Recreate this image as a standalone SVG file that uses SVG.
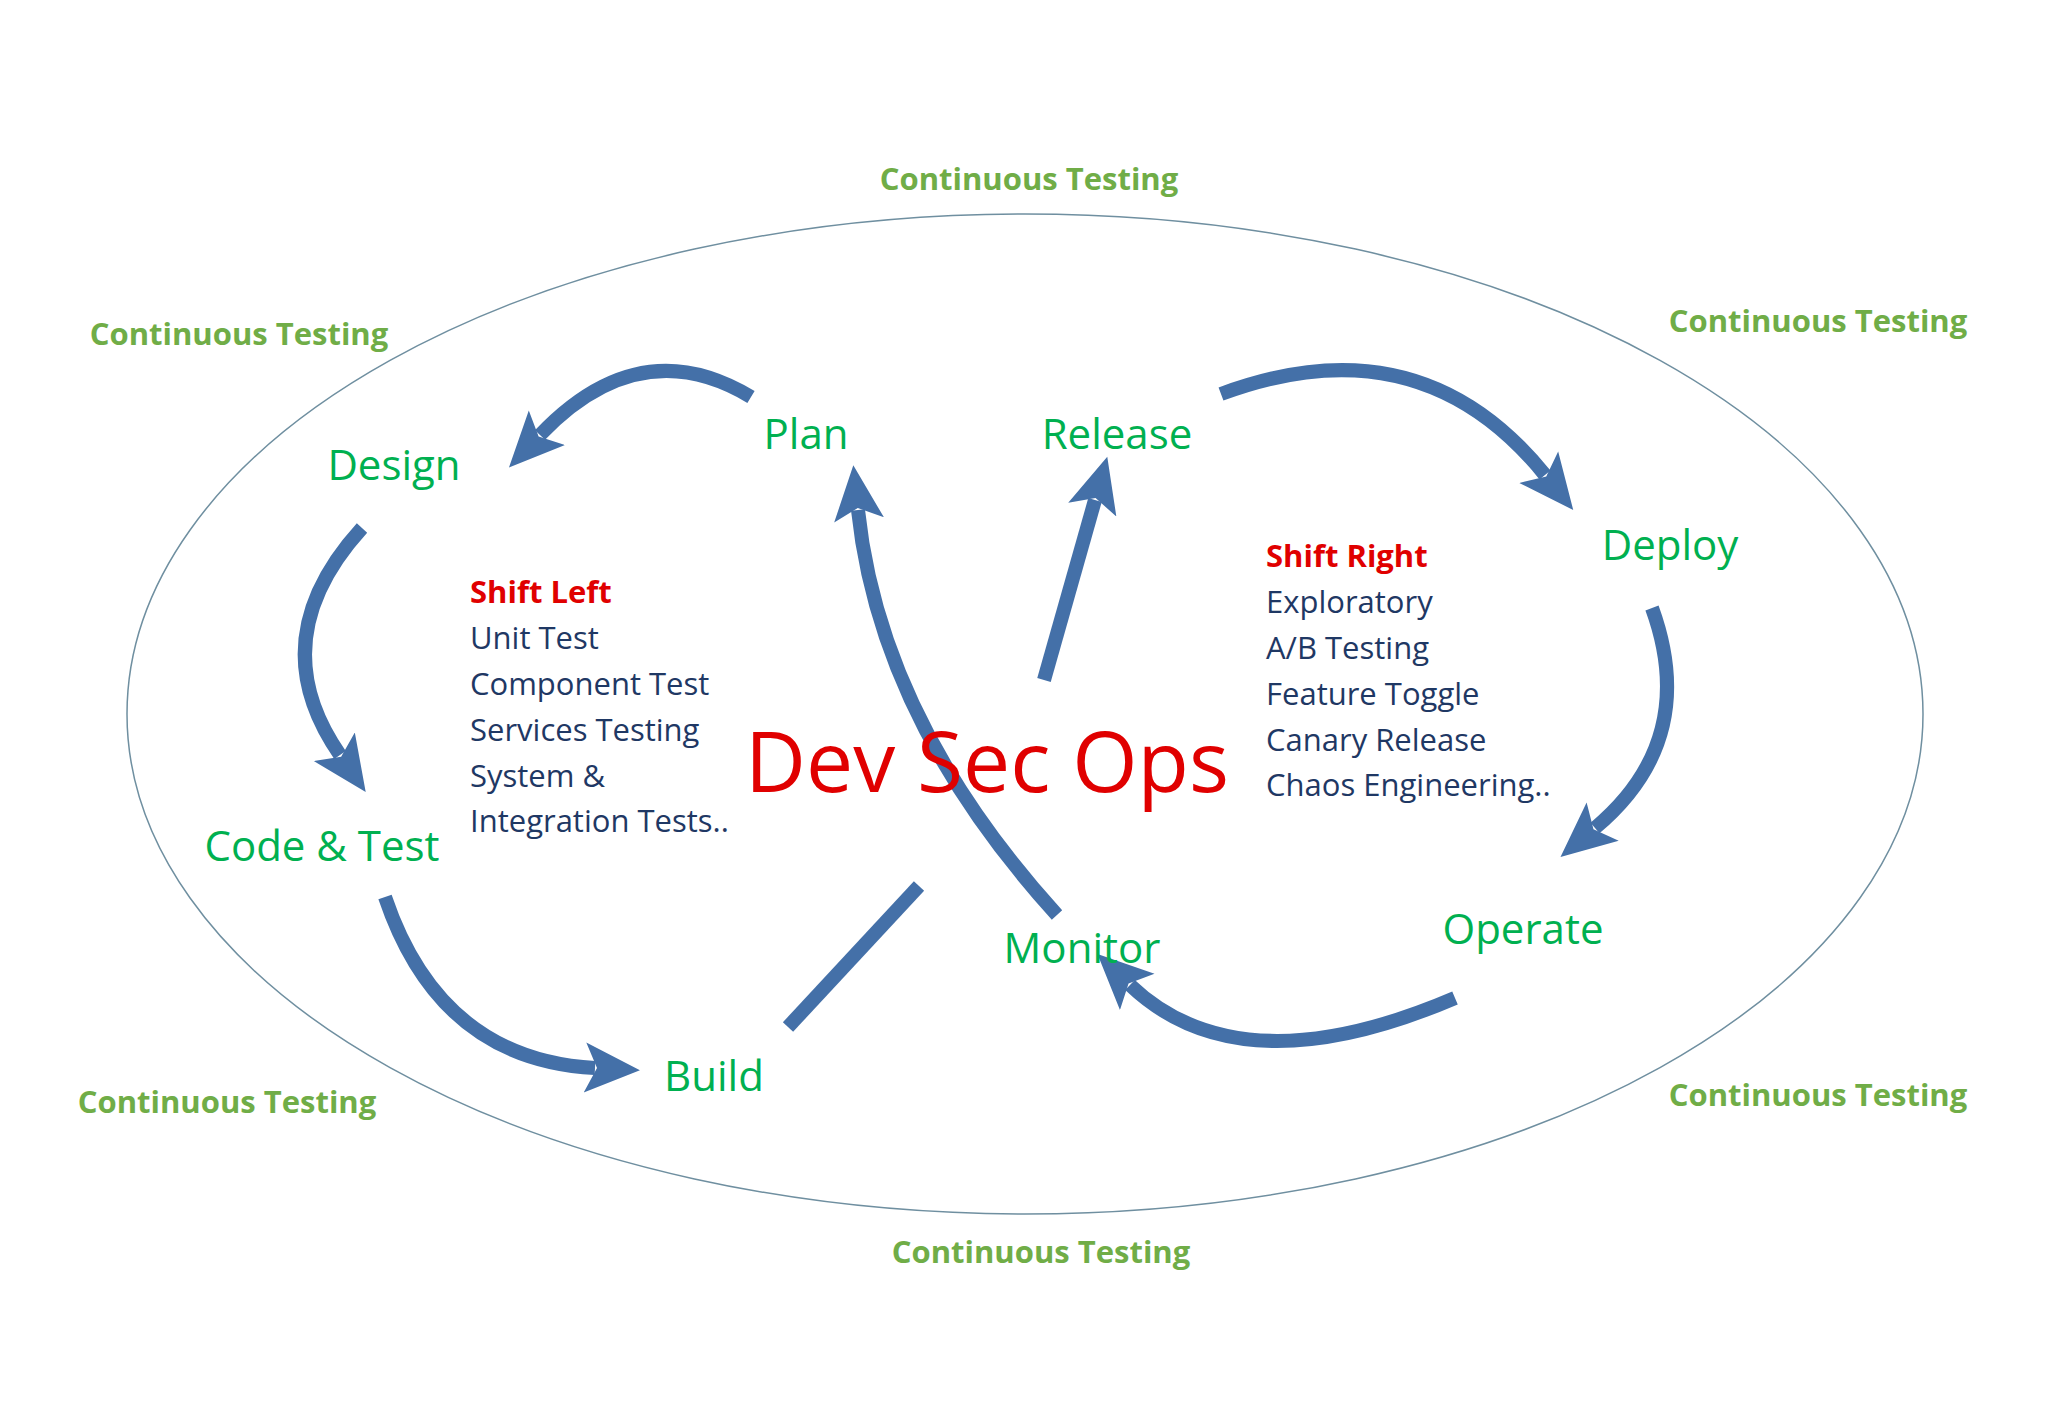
<svg xmlns="http://www.w3.org/2000/svg" width="2048" height="1425" viewBox="0 0 2048 1425">
<style>
.ct{font-family:"Open Sans","Liberation Sans",sans-serif;font-weight:bold;font-size:31px;fill:#70ad47;text-anchor:middle}
.nd{font-family:"Open Sans","Liberation Sans",sans-serif;font-size:42px;fill:#00b050;text-anchor:middle}
.ls{font-family:"Open Sans","Liberation Sans",sans-serif;font-size:31px;fill:#1f3864}
.hd{font-weight:bold;fill:#e00000}
.ar{fill:none;stroke:#4470a8;stroke-width:14}
</style>
<defs>
<marker id="ah" markerUnits="userSpaceOnUse" markerWidth="60" markerHeight="60" refX="10" refY="30" orient="auto">
<path d="M0,5 L55,30 L0,55 L12,30 Z" fill="#4470a8"/>
</marker>
</defs>
<rect width="2048" height="1425" fill="#fff"/>
<ellipse cx="1025" cy="714" rx="898" ry="500" fill="none" stroke="#6f8fa0" stroke-width="1.5"/>
<g id="ct">
<text class="ct" x="1029" y="190">Continuous Testing</text>
<text class="ct" x="239" y="345">Continuous Testing</text>
<text class="ct" x="1818" y="332">Continuous Testing</text>
<text class="ct" x="227" y="1113">Continuous Testing</text>
<text class="ct" x="1818" y="1106">Continuous Testing</text>
<text class="ct" x="1041" y="1263">Continuous Testing</text>
</g>
<g id="connectors">
<path class="ar" d="M751,397 Q640,330 540,435" marker-end="url(#ah)"/>
<path class="ar" d="M362,528 Q260,640 340,755" marker-end="url(#ah)"/>
<path class="ar" d="M385,897 Q440,1060 595,1068" marker-end="url(#ah)"/>
<path class="ar" d="M788,1027 L919,886"/>
<path class="ar" d="M1057,915 Q880,720 858,510" marker-end="url(#ah)"/>
<path class="ar" d="M1044,680 L1095,500" marker-end="url(#ah)"/>
<path class="ar" d="M1221,394 Q1420,320 1545,475" marker-end="url(#ah)"/>
<path class="ar" d="M1652,608 Q1700,740 1595,828" marker-end="url(#ah)"/>
<path class="ar" d="M1455,998 Q1240,1090 1130,985" marker-end="url(#ah)"/>
</g>
<g id="plan"><text class="nd" x="806" y="449">Plan</text></g>
<g id="release"><text class="nd" x="1117" y="449">Release</text></g>
<g id="design"><text class="nd" x="394" y="480">Design</text></g>
<g id="deploy"><text class="nd" x="1670" y="560">Deploy</text></g>
<g id="code"><text class="nd" x="322" y="861">Code &amp; Test</text></g>
<g id="operate"><text class="nd" x="1523" y="944">Operate</text></g>
<g id="monitor"><text class="nd" x="1082" y="963">Monitor</text></g>
<g id="build"><text class="nd" x="714" y="1091">Build</text></g>
<g id="center"><text x="987" y="792" text-anchor="middle" font-family="Open Sans, Liberation Sans, sans-serif" font-size="84" fill="#e00000">Dev Sec Ops</text></g>
<g id="shiftleft" class="ls">
<text x="470" y="603" class="ls hd">Shift Left</text>
<text x="470" y="649" class="ls">Unit Test</text>
<text x="470" y="695" class="ls">Component Test</text>
<text x="470" y="741" class="ls">Services Testing</text>
<text x="470" y="787" class="ls">System &amp;</text>
<text x="470" y="832" class="ls">Integration Tests..</text>
</g>
<g id="shiftright">
<text x="1266" y="567" class="ls hd">Shift Right</text>
<text x="1266" y="613" class="ls">Exploratory</text>
<text x="1266" y="659" class="ls">A/B Testing</text>
<text x="1266" y="705" class="ls">Feature Toggle</text>
<text x="1266" y="751" class="ls">Canary Release</text>
<text x="1266" y="796" class="ls">Chaos Engineering..</text>
</g>
</svg>
